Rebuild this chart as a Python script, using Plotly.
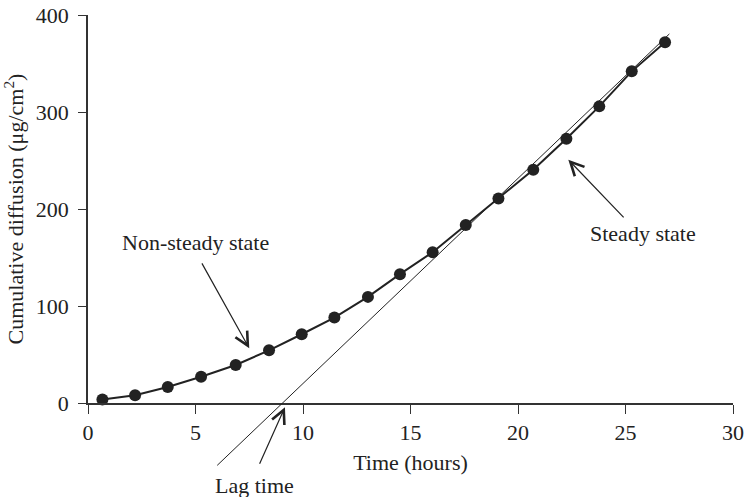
import plotly.graph_objects as go

# Data
time_h = [0.67, 2.19, 3.71, 5.26, 6.87, 8.42, 9.94, 11.46, 13.02, 14.51,
          16.03, 17.57, 19.09, 20.71, 22.25, 23.78, 25.29, 26.84]
cum_diff = [3.7, 7.9, 16.5, 27.1, 39.2, 54.3, 70.9, 88.1, 109.4, 132.8,
            155.5, 183.4, 210.8, 240.5, 272.4, 305.8, 341.9, 371.8]

# Steady-state tangent line
lag_time = 9.05
slope = 21.15
tangent_x = [5.94, 27.04]

x_ticks = [0, 5, 10, 15, 20, 25, 30]
y_ticks = [0, 100, 200, 300, 400]

FONT = "Liberation Serif"
FS = 22
INK = "#222222"
AXIS = "#333333"

tangent_y = [slope * (x - lag_time) for x in tangent_x]

fig = go.Figure()
fig.add_trace(go.Scatter(
    x=time_h, y=cum_diff, mode="lines+markers",
    line=dict(color=INK, width=2),
    marker=dict(color=INK, size=12),
    cliponaxis=False, showlegend=False,
))

txt = dict(showarrow=False, xanchor="center", yanchor="middle",
           font=dict(family=FONT, size=FS, color=INK))
arr = dict(text="", showarrow=True, arrowhead=5, arrowsize=2.2,
           arrowwidth=1.2, arrowcolor=INK, standoff=0)

annotations = [
    # tangent line (extends below the axis)
    dict(x=tangent_x[1], y=tangent_y[1], xref="x", yref="y",
         ax=tangent_x[0], ay=tangent_y[0], axref="x", ayref="y",
         text="", showarrow=True, arrowhead=0, arrowwidth=1, arrowcolor=INK,
         standoff=0, startstandoff=0),
    # Non-steady state
    dict(x=5.02, y=165, xref="x", yref="y", text="Non-steady state", **txt),
    dict(x=7.50, y=56.4, xref="x", yref="y", ax=5.26, ay=145.5,
         axref="x", ayref="y", **arr),
    # Steady state
    dict(x=25.8, y=174.4, xref="x", yref="y", text="Steady state", **txt),
    dict(x=22.34, y=250.8, xref="x", yref="y", ax=24.98, ay=189.9,
         axref="x", ayref="y", **arr),
    # Lag time
    dict(x=7.74, y=-0.2116, xref="x", yref="paper", text="Lag time", **txt),
    dict(x=9.16, y=-0.011, xref="x", yref="paper", ax=-26, ay=58,
         axref="pixel", ayref="pixel", **arr),
]

fig.update_layout(
    width=746, height=497,
    margin=dict(l=88, r=13, t=15, b=94),
    paper_bgcolor="white", plot_bgcolor="white",
    font=dict(family=FONT, size=FS, color=INK),
    annotations=annotations,
    xaxis=dict(
        range=[0, 30], tickvals=x_ticks, ticks="outside", ticklen=9,
        tickcolor=AXIS, tickwidth=1.3, showline=True, linecolor=AXIS,
        linewidth=1.5, showgrid=False, zeroline=False, automargin=False,
        ticklabelstandoff=0,
        tickfont=dict(family=FONT, size=FS, color=INK),
        title=dict(text="Time (hours)", standoff=10,
                   font=dict(family=FONT, size=FS, color=INK)),
    ),
    yaxis=dict(
        range=[0, 400], tickvals=y_ticks, ticks="outside", ticklen=8,
        tickcolor=AXIS, tickwidth=1.3, showline=True, linecolor=AXIS,
        linewidth=1.5, showgrid=False, zeroline=False, automargin=False,
        ticklabelstandoff=5,
        tickfont=dict(family=FONT, size=FS, color=INK),
        title=dict(text="Cumulative diffusion (μg/cm<sup>2</sup>)", standoff=10,
                   font=dict(family=FONT, size=FS, color=INK)),
    ),
)

fig.write_html("out.html")
